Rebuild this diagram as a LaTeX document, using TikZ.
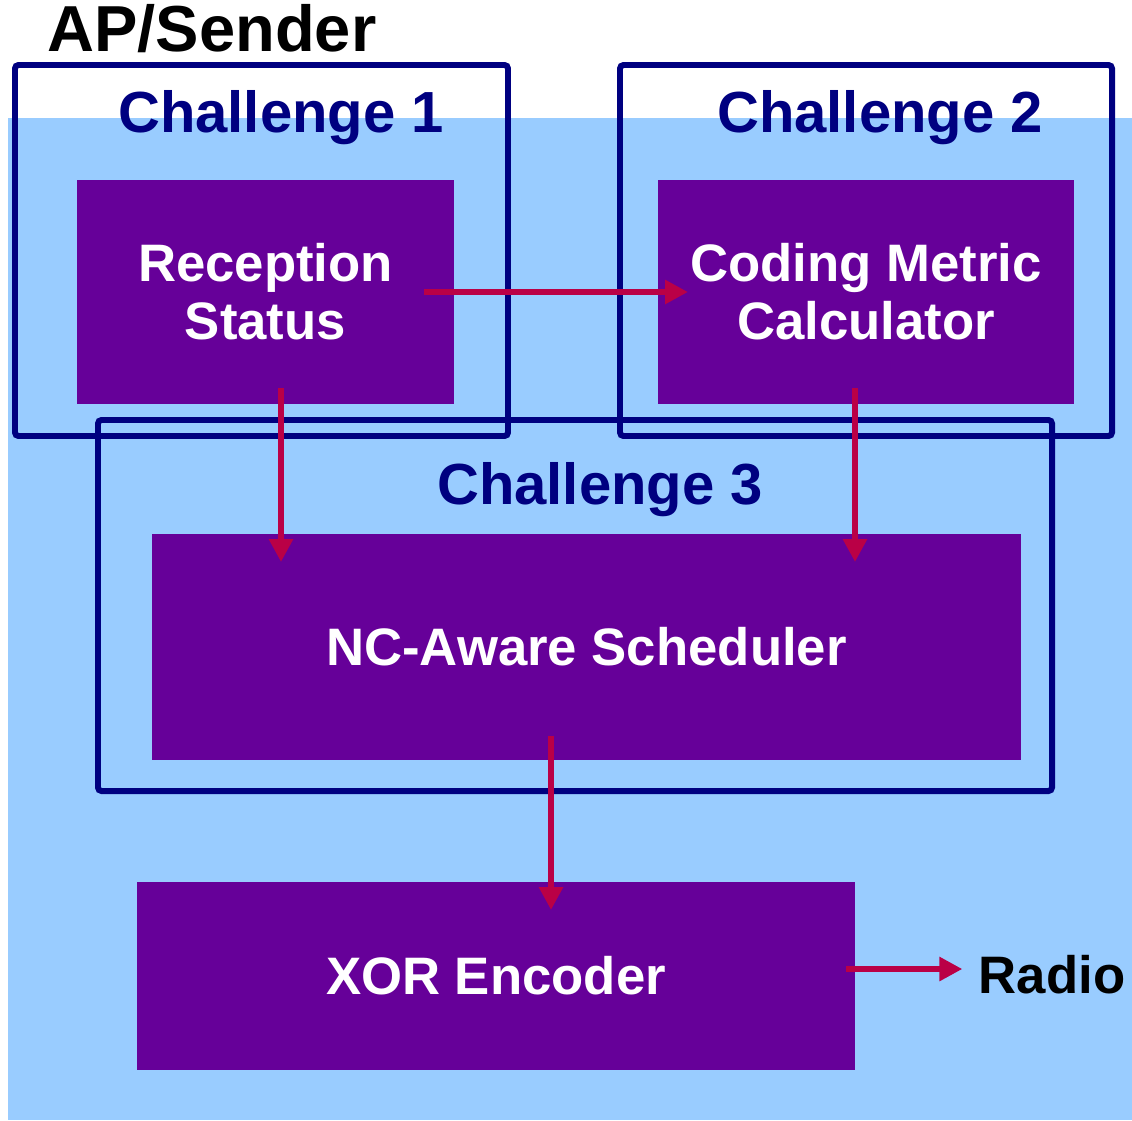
\documentclass[tikz,border=0pt]{standalone}
\usepackage{fontspec}
\setmainfont{Liberation Sans}
\usetikzlibrary{positioning, arrows.meta}

\definecolor{skyback}{HTML}{99CCFF}
\definecolor{blockfill}{HTML}{660099}
\definecolor{framecol}{HTML}{000080}
\definecolor{flowcol}{HTML}{BA0046}

\begin{document}
\begin{tikzpicture}[
    every node/.style={font=\bfseries\fontsize{15}{16.5}\selectfont},
    block/.style={rectangle, fill=blockfill, text=white, inner sep=0pt, outer sep=0pt, align=center},
    frame/.style={rectangle, draw=framecol, line width=1.7pt, rounded corners=1pt, inner sep=0pt, outer sep=0pt},
    title/.style={text=framecol, anchor=base, font=\bfseries\fontsize{16.5}{19}\selectfont},
    flow/.style={draw=flowcol, line width=1.8pt, -{Triangle[length=2.3mm, width=2.3mm]}}]

  \useasboundingbox (0,0) rectangle (11.32,-11.20);
  \fill[skyback] (0.08,-1.18) rectangle (11.32,-11.20);

  \node[anchor=base, font=\bfseries\fontsize{18.5}{22}\selectfont] (ap) at (2.12,-0.52) {AP/Sender};

  % challenge frames
  \node[frame, minimum width=4.93cm, minimum height=3.71cm] (c1) at (2.615,-2.505) {};
  \node[frame, minimum width=4.92cm, minimum height=3.71cm] (c2) at (8.66,-2.505) {};
  \node[frame, minimum width=9.54cm, minimum height=3.71cm] (c3) at (5.75,-6.055) {};

  \node[title] (t1) at (2.81,-1.32) {Challenge 1};
  \node[title] (t2) at (8.80,-1.32) {Challenge 2};
  \node[title] (t3) at (6.00,-5.04) {Challenge 3};

  % blocks
  \node[block, minimum width=3.77cm, minimum height=2.24cm] (rs)  at (2.655,-2.92) {Reception\\Status};
  \node[block, minimum width=4.16cm, minimum height=2.24cm] (cmc) at (8.66,-2.92)  {Coding Metric\\Calculator};
  \node[block, minimum width=8.69cm, minimum height=2.26cm] (sched) at (5.865,-6.47) {NC-Aware Scheduler};
  \node[block, minimum width=7.18cm, minimum height=1.88cm] (xor) at (4.96,-9.76) {XOR Encoder};

  \node (radio) at (10.52,-9.75) {Radio};

  \draw[flow, shorten <=-3mm, shorten >=-3mm] (rs.east) -- (cmc.west);
  \draw[flow, shorten <=-1.6mm, shorten >=-2.8mm] (2.81,0 |- rs.south) -- (2.81,0 |- sched.north);
  \draw[flow, shorten <=-1.6mm, shorten >=-2.8mm] (8.55,0 |- cmc.south) -- (8.55,0 |- sched.north);
  \draw[flow, shorten <=-2.4mm, shorten >=-2.8mm] (5.51,0 |- sched.south) -- (5.51,0 |- xor.north);
  \draw[flow, shorten <=-0.9mm, shorten >=0.4mm] (xor.east |- 0,-9.69) -- (radio.west |- 0,-9.69);
\end{tikzpicture}
\end{document}
